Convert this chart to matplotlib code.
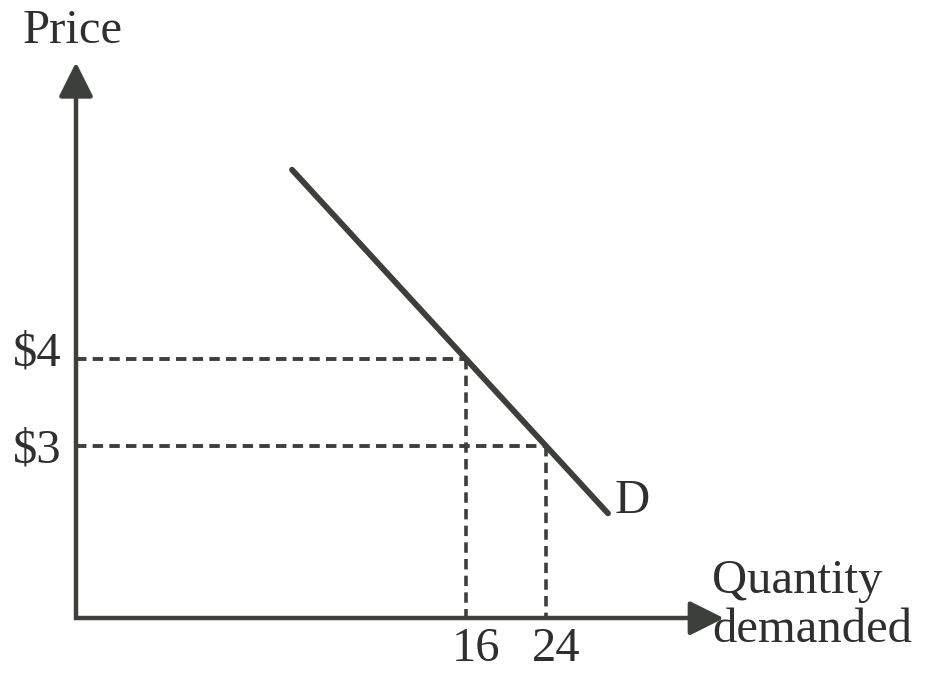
import matplotlib.pyplot as plt

# demand schedule points
quantity = [16, 24]
price = [4, 3]
qty_labels = ['16', '24']
price_labels = ['$4', '$3']

# demand curve end points (passes through the schedule points)
demand_q = [-1.4, 30.2]
demand_p = [6.175, 2.225]

ink = '#3c3f3a'
text_col = '#2f2f2f'
font = 'Liberation Serif'
fs = 35

plt.rcParams['lines.scale_dashes'] = False

fig = plt.figure(figsize=(9.4, 6.74), dpi=100)
ax = fig.add_axes([0, 0, 1, 1])
ax.set_xlim(-30.6, 63.4)
ax.set_ylim(0.379, 8.126)
ax.axis('off')

# axis origin and arrow tips
q0, p0 = -23.0, 1.02
q_tip, p_tip = 41.8, 7.41

ax.plot([q0, q0, q_tip - 2.5], [p_tip - 0.3, p0, p0], color=ink, lw=3.2,
        solid_joinstyle='miter', solid_capstyle='butt')
head = '-|>,head_length=1.0,head_width=0.5'
ax.annotate('', xy=(q_tip, p0), xytext=(q_tip - 3.0, p0),
            arrowprops=dict(arrowstyle=head, mutation_scale=21, color=ink,
                            lw=3.2, shrinkA=0, shrinkB=0))
ax.annotate('', xy=(q0, p_tip), xytext=(q0, p_tip - 0.35),
            arrowprops=dict(arrowstyle=head, mutation_scale=21, color=ink,
                            lw=3.2, shrinkA=0, shrinkB=0))

# demand curve
ax.plot(demand_q, demand_p, color=ink, lw=4.2, solid_capstyle='round')
ax.text(demand_q[-1] + 0.7, demand_p[-1], 'D', fontsize=fs, family=font,
        color=text_col, ha='left', va='baseline')

# dashed guides to both axes
for q, p in zip(quantity, price):
    ax.plot([q0, q], [p, p], color=ink, lw=2.8, dashes=(7.5, 4.5))
    ax.plot([q, q], [p, p0], color=ink, lw=2.6, dashes=(7.5, 4.5))

for p, lab, dy in zip(price, price_labels, [0.12, 0.0]):
    ax.text(q0 - 6.3, p + dy, lab, fontsize=fs, family=font, color=text_col,
            ha='left', va='center_baseline')
for q, lab in zip(quantity, qty_labels):
    ax.text(q + 1.0, 0.53, lab, fontsize=fs, family=font, color=text_col,
            ha='center', va='baseline')

ax.text(-28.3, 7.632, 'Price', fontsize=fs, family=font, color=text_col,
        ha='left', va='baseline')
ax.text(40.6, 1.31, 'Quantity', fontsize=fs, family=font, color=text_col,
        ha='left', va='baseline')
ax.text(40.6, 0.747, 'demanded', fontsize=fs, family=font, color=text_col,
        ha='left', va='baseline')

fig.savefig('out.png', dpi=100, facecolor='white')
